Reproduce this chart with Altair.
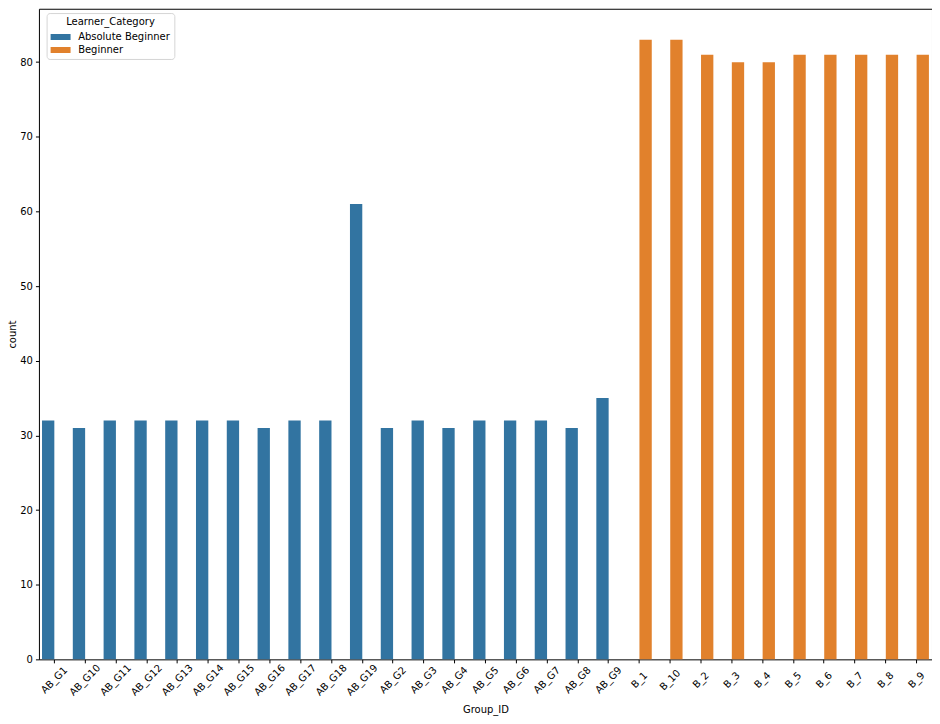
import altair as alt
import pandas as pd

groups = ["AB_G1", "AB_G10", "AB_G11", "AB_G12", "AB_G13", "AB_G14", "AB_G15", "AB_G16",
          "AB_G17", "AB_G18", "AB_G19", "AB_G2", "AB_G3", "AB_G4", "AB_G5", "AB_G6",
          "AB_G7", "AB_G8", "AB_G9",
          "B_1", "B_10", "B_2", "B_3", "B_4", "B_5", "B_6", "B_7", "B_8", "B_9"]
counts = [32, 31, 32, 32, 32, 32, 32, 31, 32, 32, 61, 31, 32, 31, 32, 32, 32, 31, 35,
          83, 83, 81, 80, 80, 81, 81, 81, 81, 81]
categories = ["Absolute Beginner"] * 19 + ["Beginner"] * 10
hue_order = ["Absolute Beginner", "Beginner"]
colors = ["#3274a1", "#e1812c"]

df = pd.DataFrame({"Group_ID": groups, "count": counts, "Learner_Category": categories})

font = "DejaVu Sans"

chart = alt.Chart(df).mark_bar().encode(
    x=alt.X("Group_ID:N", sort=groups,
            scale=alt.Scale(paddingInner=0, paddingOuter=0),
            axis=alt.Axis(title="Group_ID", labelAngle=315, labelAlign="center",
                          labelBaseline="middle", labelPadding=17,
                          titleX=447.5, titleY=50, titleAlign="center",
                          titleBaseline="middle")),
    xOffset=alt.XOffset("Learner_Category:N",
                        scale=alt.Scale(domain=hue_order, paddingInner=0, paddingOuter=0.25)),
    y=alt.Y("count:Q", scale=alt.Scale(domain=[0, 87.15], nice=False),
            axis=alt.Axis(title="count", values=[0, 10, 20, 30, 40, 50, 60, 70, 80],
                          titleX=-26, titleY=326, titleAlign="center",
                          titleBaseline="middle", labelPadding=3)),
    color=alt.Color("Learner_Category:N",
                    scale=alt.Scale(domain=hue_order, range=colors),
                    legend=alt.Legend(title="Learner_Category", orient="none",
                                      legendX=7.7, legendY=4.3, padding=4,
                                      strokeColor="#d5d5d5", fillColor="white",
                                      cornerRadius=3, titleAnchor="middle",
                                      symbolType="M-1,-0.43L1.857,-0.43L1.857,0.43L-1,0.43Z",
                                      symbolSize=196, symbolStrokeWidth=0,
                                      labelOffset=13.6, rowPadding=1, titlePadding=3)),
).properties(
    width=895, height=652,
    autosize=alt.AutoSizeParams(type="none"),
    padding={"left": 31, "top": 0, "right": 0, "bottom": 56},
).configure_view(
    stroke="black", strokeWidth=1
).configure_axis(
    labelFont=font, titleFont=font, labelFontSize=10, titleFontSize=10,
    titleFontWeight="normal", labelColor="black", titleColor="black",
    tickColor="black", tickSize=3.5, domain=False, grid=False
).configure_legend(
    titleFont=font, labelFont=font, titleFontSize=10, labelFontSize=10,
    titleFontWeight="normal", titleColor="black", labelColor="black"
)

chart.save("out.html", embed_options={"renderer": "svg", "actions": False})
